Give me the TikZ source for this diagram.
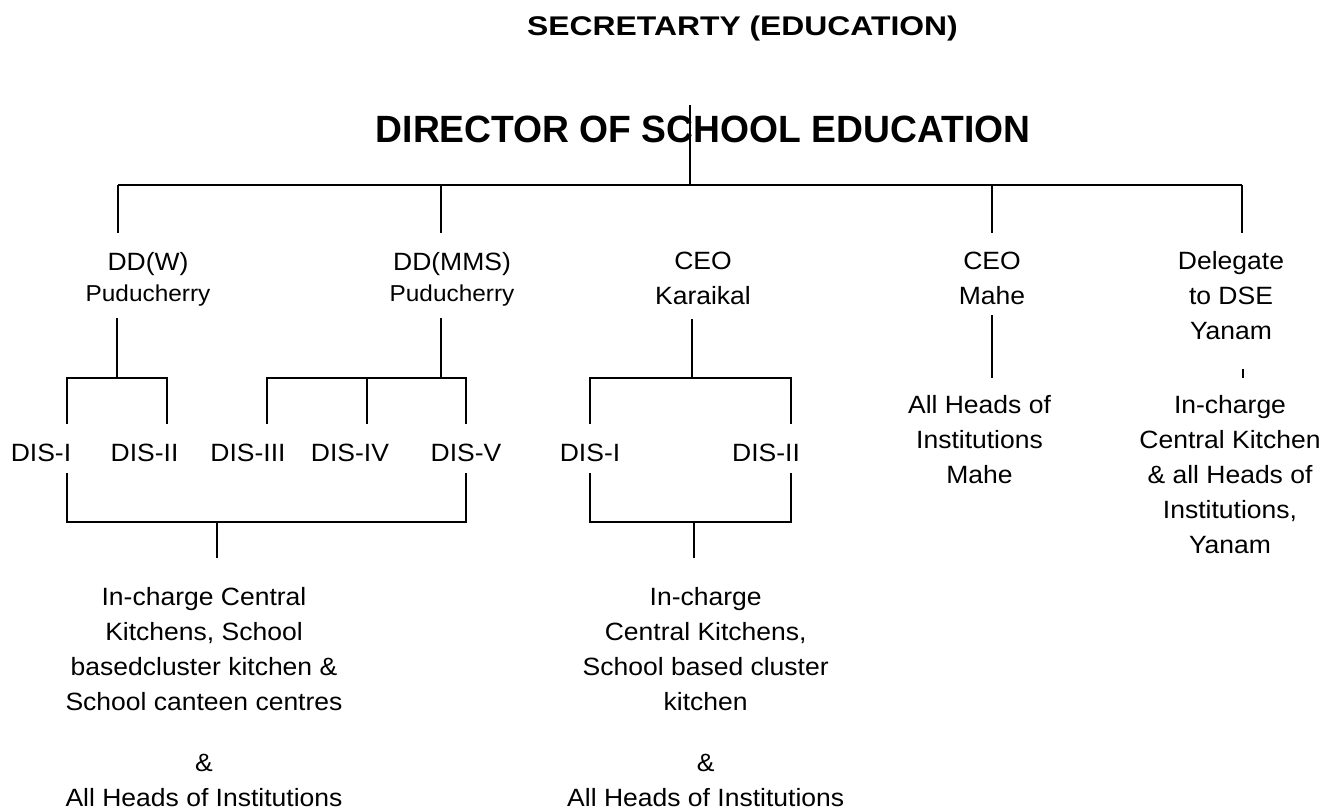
\documentclass[tikz,border=0pt]{standalone}
\usepackage{fontspec}
\setmainfont{Liberation Sans}[FakeStretch=1.06]
\newfontfamily\secfont{Liberation Sans}[FakeStretch=1.18]
\newfontfamily\dirfont{Liberation Sans}[FakeStretch=0.98]
\newcommand{\tstrut}{\rule{0pt}{20pt}}
\begin{document}
\begin{tikzpicture}[x=1pt,y=-1pt,line width=1.3pt,
  lbl/.style={inner sep=0pt,align=center,anchor=north,font=\fontsize{25}{35}\selectfont},
  lbltwo/.style={lbl,font=\fontsize{25}{31}\selectfont},
  dis/.style={inner sep=0pt,anchor=base,font=\fontsize{25}{30}\selectfont}]
\useasboundingbox (0,0) rectangle (1332,810);
% titles
\node[inner sep=0pt,anchor=base] (sec) at (742.5,36) {\fontsize{27}{30}\secfont\bfseries SECRETARTY (EDUCATION)};
\node[inner sep=0pt,anchor=base] (dir) at (703,143) {\fontsize{38}{45}\dirfont\bfseries DIRECTOR OF SCHOOL EDUCATION};
% second level
\node[lbltwo] (ddw) at (148,250) {\tstrut DD(W)\\{\fontsize{23}{31}\selectfont Puducherry}};
\node[lbltwo] (ddm) at (452,250) {\tstrut DD(MMS)\\{\fontsize{23}{31}\selectfont Puducherry}};
\node[lbl] (ceok) at (703,249) {\tstrut CEO\\Karaikal};
\node[lbl] (ceom) at (992,249) {\tstrut CEO\\Mahe};
\node[lbl] (dele) at (1231,249) {\tstrut Delegate\\to DSE\\Yanam};
% DIS level
\node[dis] (dis1) at (41,461) {DIS-I};
\node[dis] (dis2) at (144.5,461) {DIS-II};
\node[dis] (dis3) at (248,461) {DIS-III};
\node[dis] (dis4) at (350,461) {DIS-IV};
\node[dis] (dis5) at (466,461) {DIS-V};
\node[dis] (kdis1) at (590,461) {DIS-I};
\node[dis] (kdis2) at (766,461) {DIS-II};
\node[lbl] (maheh) at (979.5,393) {\tstrut All Heads of\\Institutions\\Mahe};
\node[lbl] (yanh) at (1230,393) {\tstrut In-charge\\Central Kitchen\\\& all Heads of\\Institutions,\\Yanam};
% bottom texts
\node[lbl] (pudb) at (204,585) {\tstrut In-charge Central\\Kitchens, School\\basedcluster kitchen \&\\School canteen centres\\[26pt]\&\\All Heads of Institutions};
\node[lbl] (karb) at (705.7,585) {\tstrut In-charge\\Central Kitchens,\\School based cluster\\kitchen\\[26pt]\&\\All Heads of Institutions};
% connector points
\coordinate (dtop) at (690,105);
\coordinate (dbar) at (690,185);
\coordinate (barL) at (118,185);
\coordinate (barM) at (441,185);
\coordinate (barC) at (992,185);
\coordinate (barR) at (1242,185);
\coordinate (ddwin) at (118,233);
\coordinate (ddmin) at (441,233);
\coordinate (ceomin) at (992,233);
\coordinate (delein) at (1242,233);
% DD(W) branch
\coordinate (ddwout) at (117,318);
\coordinate (wbar) at (117,378);
\coordinate (wL) at (67,378);
\coordinate (wR) at (167,378);
\coordinate (wLd) at (67,424);
\coordinate (wRd) at (167,424);
% DD(MMS) branch
\coordinate (ddmout) at (441,318);
\coordinate (mbar) at (441,378);
\coordinate (mL) at (267,378);
\coordinate (mM) at (367,378);
\coordinate (mR) at (466,378);
\coordinate (mLd) at (267,424);
\coordinate (mMd) at (367,424);
\coordinate (mRd) at (466,424);
% Puducherry bottom bracket
\coordinate (pLu) at (67,473);
\coordinate (pRu) at (466,473);
\coordinate (pL) at (67,522);
\coordinate (pR) at (466,522);
\coordinate (pM) at (217,522);
\coordinate (pMd) at (217,558);
% Karaikal branch
\coordinate (kout) at (692,319);
\coordinate (kbar) at (692,378);
\coordinate (kL) at (590,378);
\coordinate (kR) at (791,378);
\coordinate (kLd) at (590,424);
\coordinate (kRd) at (791,424);
\coordinate (kLu) at (590,473);
\coordinate (kRu) at (791,473);
\coordinate (kbL) at (590,522);
\coordinate (kbR) at (791,522);
\coordinate (kbM) at (694,522);
\coordinate (kbMd) at (694,558);
% Mahe and Yanam
\coordinate (mout) at (992,315);
\coordinate (min) at (992,378);
\coordinate (yout) at (1243,369);
\coordinate (yin) at (1243,378);
% draw connectors
\draw (dtop) -- (dbar);
\draw (barL) -- (barR);
\draw (barL) -- (ddwin);
\draw (barM) -- (ddmin);
\draw (barC) -- (ceomin);
\draw (barR) -- (delein);
\draw (ddwout) -- (wbar);
\draw (wLd) -- (wL) -- (wR) -- (wRd);
\draw (ddmout) -- (mbar);
\draw (mLd) -- (mL) -- (mR) -- (mRd);
\draw (mM) -- (mMd);
\draw (pLu) -- (pL) -- (pR) -- (pRu);
\draw (pM) -- (pMd);
\draw (kout) -- (kbar);
\draw (kLd) -- (kL) -- (kR) -- (kRd);
\draw (kLu) -- (kbL) -- (kbR) -- (kRu);
\draw (kbM) -- (kbMd);
\draw (mout) -- (min);
\draw (yout) -- (yin);
\end{tikzpicture}
\end{document}
